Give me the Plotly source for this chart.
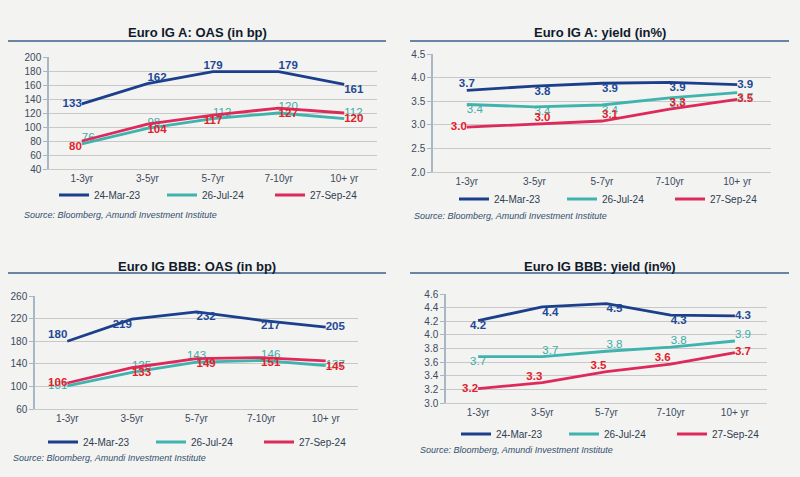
import plotly.graph_objects as go

W, H = 800, 477

categories = ["1-3yr", "3-5yr", "5-7yr", "7-10yr", "10+ yr"]
series_names = ["24-Mar-23", "26-Jul-24", "27-Sep-24"]

# Euro IG A: OAS (in bp)
a_oas_mar23 = [133, 162, 179, 179, 161]
a_oas_jul24 = [76, 98, 112, 120, 112]
a_oas_sep24 = [80, 104, 117, 127, 120]

# Euro IG A: yield (in%)
a_yld_mar23 = [3.73, 3.82, 3.88, 3.90, 3.85]
a_yld_jul24 = [3.43, 3.38, 3.42, 3.57, 3.68]
a_yld_sep24 = [2.95, 3.02, 3.08, 3.33, 3.54]

# Euro IG BBB: OAS (in bp)
bbb_oas_mar23 = [180, 219, 232, 217, 205]
bbb_oas_jul24 = [101, 125, 143, 146, 137]
bbb_oas_sep24 = [106, 133, 149, 151, 145]

# Euro IG BBB: yield (in%)
bbb_yld_mar23 = [4.21, 4.41, 4.46, 4.29, 4.28]
bbb_yld_jul24 = [3.68, 3.68, 3.76, 3.82, 3.91]
bbb_yld_sep24 = [3.21, 3.30, 3.46, 3.57, 3.74]

titles = ["Euro IG A: OAS (in bp)", "Euro IG A: yield (in%)",
          "Euro IG BBB: OAS (in bp)", "Euro IG BBB: yield (in%)"]
source_text = "Source: Bloomberg, Amundi Investment Institute"

line_colors = ["#1c3f8c", "#3fb3ad", "#dd2a5b"]
label_colors = ["#1f4996", "#3aaea7", "#e4202b"]
label_weights = ["bold", "normal", "bold"]

def px(x):
    return x / W

def py(y):
    return 1 - y / H

panels = [
    dict(data=[a_oas_mar23, a_oas_jul24, a_oas_sep24], fmt="{:.0f}",
         xdom=(49, 377), ydom=(169, 57), yr=(40, 200), dtick=20, tickfmt="d",
         title_y=32, title_x=197, line_x=(8, 386), line_y=41,
         legend=(54, 195), source=(22, 215),
         pos=[["middle left", "top right", "top center", "top right", "bottom right"],
              ["top right"] * 5,
              ["bottom left", "bottom right", "bottom center", "bottom right", "bottom right"]]),
    dict(data=[a_yld_mar23, a_yld_jul24, a_yld_sep24], fmt="{:.1f}",
         xdom=(433, 771), ydom=(172, 54), yr=(2.0, 4.5), dtick=0.5, tickfmt=".1f",
         title_y=32, title_x=600, line_x=(410, 789), line_y=41,
         legend=(454, 199), source=(412, 216),
         pos=[["top center", "bottom right", "bottom right", "bottom right", "middle right"],
              ["bottom right"] * 5,
              ["middle left", "top right", "top right", "top right", "middle right"]]),
    dict(data=[bbb_oas_mar23, bbb_oas_jul24, bbb_oas_sep24], fmt="{:.0f}",
         xdom=(35, 358), ydom=(409, 296), yr=(60, 260), dtick=40, tickfmt="d",
         title_y=266, title_x=197, line_x=(8, 386), line_y=273,
         legend=(43, 442), source=(11, 458),
         pos=[["top left", "bottom left", "bottom right", "bottom right", "middle right"],
              ["middle left", "top right", "top center", "top right", "middle right"],
              ["middle left", "bottom right", "bottom right", "bottom right", "bottom right"]]),
    dict(data=[bbb_yld_mar23, bbb_yld_jul24, bbb_yld_sep24], fmt="{:.1f}",
         xdom=(446, 767), ydom=(403, 294), yr=(3.0, 4.6), dtick=0.2, tickfmt=".1f",
         title_y=266, title_x=600, line_x=(410, 789), line_y=273,
         legend=(456, 434), source=(418, 450),
         pos=[["bottom center", "bottom right", "bottom right", "bottom right", "middle right"],
              ["bottom center", "top right", "top right", "top right", "top right"],
              ["middle left", "top left", "top left", "top left", "middle right"]]),
]

fig = go.Figure()
annotations = []
shapes = []
layout_axes = {}

for i, p in enumerate(panels):
    n = "" if i == 0 else str(i + 1)
    xa, ya = "x" + n, "y" + n
    leg = "legend" + n
    for j, (vals, name) in enumerate(zip(p["data"], series_names)):
        fig.add_trace(go.Scatter(
            x=categories, y=vals, name=name, mode="lines+text",
            text=[p["fmt"].format(v) for v in vals],
            textposition=p["pos"][j],
            textfont=dict(family="Liberation Sans, Arial, sans-serif", size=11.5,
                          color=label_colors[j], weight=label_weights[j]),
            line=dict(color=line_colors[j], width=2.8),
            cliponaxis=False, xaxis=xa, yaxis=ya, legend=leg,
            hoverinfo="skip",
        ))
    layout_axes["xaxis" + n] = dict(
        domain=[px(p["xdom"][0]), px(p["xdom"][1])], anchor=ya,
        type="category", range=[-0.5, 4.5], showgrid=False,
        showline=True, linecolor="#c9c9c9", linewidth=1,
        ticks="", tickfont=dict(size=10, color="#3b4a5e",
                                family="Liberation Sans, Arial, sans-serif"),
        fixedrange=True, automargin=False,
    )
    layout_axes["yaxis" + n] = dict(
        domain=[py(p["ydom"][0]), py(p["ydom"][1])], anchor=xa,
        range=list(p["yr"]), dtick=p["dtick"], tick0=p["yr"][0], tickformat=p["tickfmt"],
        showgrid=True, gridcolor="#c8c8c8", gridwidth=1, zeroline=False,
        showline=True, linecolor="#a9b6c4", linewidth=1.5,
        ticks="outside", ticklen=4, tickcolor="#a9b6c4",
        tickfont=dict(size=10, color="#3b4a5e",
                      family="Liberation Sans, Arial, sans-serif"),
        fixedrange=True, automargin=False,
    )
    layout_axes[leg] = dict(
        orientation="h", x=px(p["legend"][0]), y=py(p["legend"][1]),
        xanchor="left", yanchor="middle", bgcolor="rgba(0,0,0,0)",
        entrywidth=63, entrywidthmode="pixels", itemwidth=30,
        tracegroupgap=0, itemclick=False, itemdoubleclick=False,
        font=dict(size=10, color="#2f3e52",
                  family="Liberation Sans, Arial, sans-serif"),
    )
    annotations.append(dict(
        text="<b>" + titles[i] + "</b>", x=px(p["title_x"]), y=py(p["title_y"]),
        xref="paper", yref="paper", showarrow=False,
        xanchor="center", yanchor="middle",
        font=dict(size=13, color="#111a2b",
                  family="Liberation Sans, Arial, sans-serif"),
    ))
    annotations.append(dict(
        text="<i>" + source_text + "</i>", x=px(p["source"][0]), y=py(p["source"][1]),
        xref="paper", yref="paper", showarrow=False,
        xanchor="left", yanchor="middle",
        font=dict(size=9, color="#34506f",
                  family="Liberation Sans, Arial, sans-serif"),
    ))
    shapes.append(dict(
        type="line", xref="paper", yref="paper",
        x0=px(p["line_x"][0]), x1=px(p["line_x"][1]),
        y0=py(p["line_y"]), y1=py(p["line_y"]),
        line=dict(color="#3d5f88", width=1.5),
    ))

fig.update_layout(
    width=W, height=H, margin=dict(l=0, r=0, t=0, b=0, autoexpand=False),
    paper_bgcolor="#f3f3f1", plot_bgcolor="#f3f3f1",
    showlegend=True, annotations=annotations, shapes=shapes,
    font=dict(family="Liberation Sans, Arial, sans-serif"),
    **layout_axes,
)

fig.write_html("out.html", config={"displayModeBar": False},
               post_script="document.body.style.margin='0';document.body.style.background='#f3f3f1';")
